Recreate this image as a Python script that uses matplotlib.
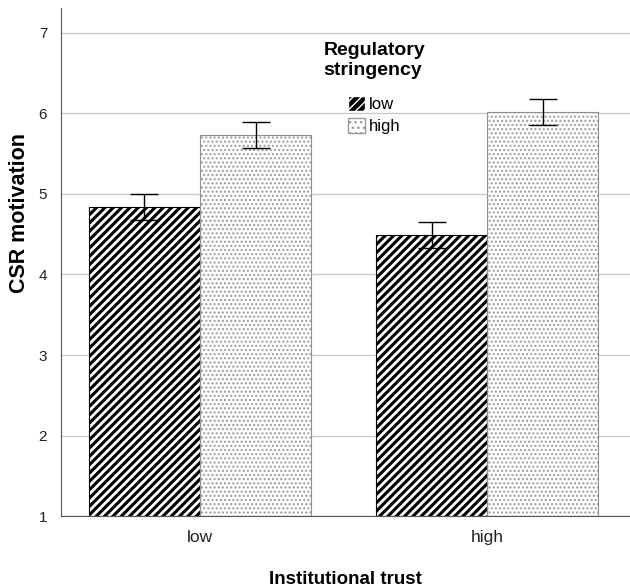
import matplotlib
matplotlib.use("Agg")
import matplotlib.pyplot as plt
import matplotlib.patches as mpatches
import numpy as np

plt.rcParams['font.family'] = ['Liberation Sans', 'DejaVu Sans']

trust = ['low', 'high']
stringency = ['low', 'high']
means_low = [4.84, 4.49]
means_high = [5.73, 6.02]
err_low = [0.16, 0.16]
err_high = [0.16, 0.16]

fig = plt.figure(figsize=(6.3, 5.88), dpi=100)
ax = fig.add_axes([0.097, 0.1224, 0.903, 0.864])

x = np.arange(len(trust))
w = 0.387

# black bars, white diagonal stripes
plt.rcParams['hatch.linewidth'] = 2.0
ax.bar(x - w / 2, [m - 1 for m in means_low], w, bottom=1, color='black',
       edgecolor='white', hatch='////', linewidth=0, zorder=2)
h1 = mpatches.Patch(facecolor='black', edgecolor='white', hatch='////')

# white bars, fine gray dots
plt.rcParams['hatch.linewidth'] = 1.0
ax.bar(x + w / 2, [m - 1 for m in means_high], w, bottom=1, color='white',
       edgecolor='#9a9a9a', hatch='....', linewidth=0, zorder=2)
h2 = mpatches.Patch(facecolor='white', edgecolor='#9a9a9a', hatch='...')

ax.bar(x - w / 2, [m - 1 for m in means_low], w, bottom=1, fill=False,
       edgecolor='black', linewidth=0.8, zorder=3)
ax.bar(x + w / 2, [m - 1 for m in means_high], w, bottom=1, fill=False,
       edgecolor='#909090', linewidth=0.8, zorder=3)

ax.errorbar(x - w / 2, means_low, yerr=err_low, fmt='none', ecolor='black',
            elinewidth=1, capsize=10, capthick=1, zorder=4)
ax.errorbar(x + w / 2, means_high, yerr=err_high, fmt='none', ecolor='black',
            elinewidth=1, capsize=10, capthick=1, zorder=4)

ax.set_xlim(-0.484, 1.498)
ax.set_ylim(1, 7.31)
ax.set_yticks(range(1, 8))
ax.set_xticks(x)
ax.set_xticklabels(trust, fontsize=12.5)
ax.tick_params(axis='y', length=0, labelsize=11, pad=10, colors='#222222')
ax.tick_params(axis='x', length=0, pad=10, colors='#222222')
ax.yaxis.grid(True, color='#c8c8c8', linewidth=1, zorder=0)
ax.set_axisbelow(True)
for s in ['top', 'right']:
    ax.spines[s].set_visible(False)
ax.spines['left'].set_color('#555555')
ax.spines['bottom'].set_color('#555555')

ax.set_ylabel('CSR motivation', fontsize=15.5, fontweight='bold')
ax.yaxis.set_label_coords(-0.055, 0.596)
ax.set_xlabel('Institutional trust', fontsize=13.5, fontweight='bold', labelpad=19)

leg = ax.legend([h1, h2], stringency, title='Regulatory\nstringency',
                loc='upper center', bbox_to_anchor=(0.551, 0.95), frameon=False,
                fontsize=12, handlelength=1.0, handleheight=1.0,
                handletextpad=0.25, labelspacing=0.35, borderpad=0)
leg.get_title().set_fontweight('bold')
leg.get_title().set_fontsize(14)
leg.get_title().set_linespacing(1.25)
leg._legend_box.align = 'center'
leg._legend_box.sep = 12

fig.savefig('out.png', dpi=100)
